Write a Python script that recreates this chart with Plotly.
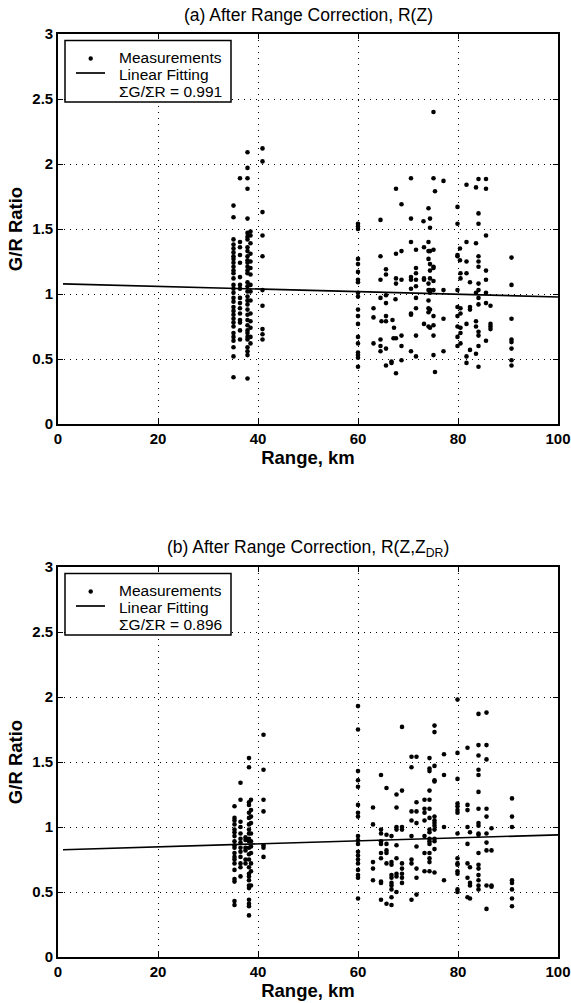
import plotly.graph_objects as go

# ---------------- Panel (a): R(Z) ----------------
a_ratio_351 = [1.68, 1.59, 1.42, 1.38, 1.35, 1.32, 1.29, 1.27, 1.24, 1.21, 1.18, 1.16, 1.12, 1.07, 1.04,
               1.01, 0.97, 0.94, 0.90, 0.87, 0.84, 0.81, 0.78, 0.75, 0.70, 0.67, 0.64, 0.59, 0.52, 0.36]
a_ratio_364 = [1.89, 1.40, 1.36, 1.30, 1.24, 1.13, 1.07, 1.04, 0.97, 0.93, 0.89, 0.85, 0.80, 0.78, 0.72, 0.65]
a_ratio_379 = [2.09, 1.97, 1.89, 1.81, 1.58, 1.47, 1.44, 1.42, 1.36, 1.33, 1.29, 1.26, 1.24, 1.21, 1.18, 1.16,
               1.09, 1.06, 1.02, 0.98, 0.95, 0.92, 0.88, 0.84, 0.80, 0.76, 0.72, 0.70, 0.67, 0.65, 0.59, 0.56,
               0.53, 0.35]
a_ratio_385 = [1.48, 1.45, 1.39, 1.31, 1.25, 1.20, 1.15, 1.07, 1.02, 0.95, 0.85, 0.79, 0.74, 0.67, 0.62]
a_ratio_409 = [2.12, 2.02, 1.63, 1.45, 1.29, 1.03, 0.91, 0.73, 0.69, 0.65]
a_ratio_600 = [1.54, 1.52, 1.50, 1.27, 1.23, 1.17, 1.11, 1.09, 1.01, 0.98, 0.88, 0.83, 0.77, 0.67, 0.62,
               0.55, 0.53, 0.51, 0.44]
a_col_range = [35.1, 36.4, 37.9, 38.5, 40.9, 60.0]

a_far_range = ([63.1] * 3 + [64.5] * 7 + [64.7] + [65.6] * 8 + [66.7] * 2 + [66.9, 67.1, 67.2, 67.5]
               + [67.6] * 6 + [68.7] * 6 + [70.6] * 9 + [71.6] * 9 + [73.1] + [73.2] * 4 + [74.1] * 10
               + [74.4] * 10 + [75.1] * 11 + [75.4] * 2 + [77.1] * 4 + [79.9] * 10 + [80.4] * 2
               + [80.5] * 7 + [81.7] * 7 + [82.4] * 4 + [83.6] * 6 + [84.1] * 14 + [85.6] * 8
               + [86.5] * 4 + [90.7] * 8)
a_far_ratio = [0.89, 0.82, 0.62,
               1.57, 1.29, 1.11, 0.97, 0.65, 0.60, 0.56,
               0.79,
               1.19, 1.15, 0.99, 0.93, 0.83, 0.79, 0.58, 0.45,
               0.47, 0.48,
               0.80, 0.66, 0.74, 0.96,
               1.81, 1.31, 1.12, 1.08, 0.66, 0.39,
               1.69, 1.33, 1.11, 0.68, 0.60, 0.49,
               1.89, 1.58, 1.40, 1.13, 1.11, 1.04, 0.84, 0.85, 0.56,
               1.34, 1.20, 1.16, 1.11, 1.06, 0.97, 0.89, 0.68, 0.52,
               1.56,
               1.36, 1.12, 1.11, 0.77,
               1.66, 1.40, 1.27, 1.33, 1.08, 1.03, 0.95, 0.89, 0.86, 0.75,
               1.58, 1.51, 1.33, 1.23, 1.18, 1.12, 1.03, 1.01, 0.88, 0.74,
               2.40, 1.89, 1.34, 1.21, 1.20, 1.10, 1.03, 0.83, 0.76, 0.68, 0.53,
               1.79, 0.40,
               1.87, 1.03, 0.81, 0.56,
               1.67, 1.54, 1.30, 1.29, 1.03, 0.90, 0.83, 0.75, 0.67, 0.60,
               1.35, 1.26,
               1.16, 1.12, 0.89, 0.85, 0.74, 0.70, 0.62,
               1.84, 1.40, 1.25, 1.16, 0.77, 0.52, 0.47,
               1.09, 0.90, 0.88, 0.57,
               1.82, 1.39, 1.01, 0.79, 0.75, 0.54,
               1.885, 1.62, 1.54, 1.29, 1.25, 1.21, 1.08, 1.03, 0.97, 0.92, 0.71, 0.68, 0.60, 0.44,
               1.885, 1.81, 1.45, 1.18, 1.11, 1.01, 0.93, 0.64,
               0.91, 0.77, 0.75, 0.73,
               1.28, 1.07, 0.81, 0.65, 0.63, 0.58, 0.49, 0.45]
a_fit_range = [1.0, 100.0]
a_fit_ratio = [1.078, 0.977]
a_sum_ratio = "0.991"

# ---------------- Panel (b): R(Z, ZDR) ----------------
b_ratio_353 = [1.16, 1.07, 1.05, 1.02, 0.98, 0.96, 0.93, 0.89, 0.86, 0.84, 0.80, 0.77, 0.75, 0.72, 0.67,
               0.60, 0.58, 0.43, 0.40]
b_ratio_365 = [1.34, 1.21, 1.04, 1.00, 0.95, 0.91, 0.88, 0.84, 0.81, 0.77, 0.72, 0.69, 0.62]
b_ratio_375 = [0.92, 0.90, 0.84, 0.82, 0.75, 0.72]
b_ratio_382 = [1.53, 1.46, 1.19, 1.17, 1.11, 1.07, 1.02, 0.98, 0.95, 0.91, 0.89, 0.84, 0.79, 0.75, 0.69,
               0.64, 0.62, 0.59, 0.55, 0.53, 0.44, 0.41, 0.39, 0.32]
b_ratio_386 = [1.21, 1.13, 1.08, 1.03, 0.95, 0.89, 0.85, 0.80, 0.72, 0.66, 0.55]
b_ratio_411 = [1.71, 1.44, 1.21, 1.12, 0.86, 0.84, 0.77]
b_ratio_600 = [1.93, 1.75, 1.43, 1.36, 1.31, 1.17, 1.11, 1.08, 0.93, 0.90, 0.87, 0.81, 0.78, 0.75, 0.72,
               0.67, 0.63, 0.61, 0.45]
b_col_range = [35.3, 36.5, 37.5, 38.2, 38.6, 41.1, 60.0]

b_far_range = ([63.0] * 5 + [64.6] * 10 + [65.7] * 7 + [66.7] * 10 + [67.7] * 9 + [68.8] * 9
               + [70.7] * 8 + [71.7] * 8 + [73.3] * 7 + [74.3] * 16 + [75.3] * 14 + [77.2] * 4
               + [79.9] * 15 + [81.9] * 8 + [82.4] * 5 + [84.1] * 18 + [85.7] * 10 + [86.7] * 4
               + [90.8] * 8)
b_far_ratio = [1.15, 1.02, 0.73, 0.68, 0.59,
               1.40, 0.98, 0.95, 0.89, 0.87, 0.80, 0.76, 0.58, 0.57, 0.44,
               1.30, 0.94, 0.87, 0.82, 0.80, 0.72, 0.41,
               0.93, 0.73, 0.71, 0.63, 0.61, 0.57, 0.55, 0.52, 0.46, 0.40,
               1.25, 1.15, 1.00, 0.98, 0.86, 0.76, 0.64, 0.62, 0.50,
               1.77, 1.28, 1.00, 0.98, 0.72, 0.68, 0.64, 0.61, 0.57,
               1.54, 1.46, 1.12, 1.05, 0.93, 0.75, 0.72, 0.44,
               1.54, 1.19, 1.12, 1.03, 0.85, 0.68, 0.61, 0.48,
               1.21, 1.14, 1.11, 1.05, 0.93, 0.80, 0.66,
               1.53, 1.45, 1.43, 1.28, 1.21, 1.14, 1.07, 0.98, 0.96, 0.91, 0.89, 0.87, 0.80, 0.76, 0.73, 0.66,
               1.78, 1.73, 1.47, 1.36, 1.35, 1.08, 1.05, 1.03, 1.01, 0.98, 0.91, 0.89, 0.83, 0.65,
               1.56, 1.40, 1.00, 0.59,
               1.98, 1.57, 1.37, 1.18, 1.16, 1.13, 1.11, 0.95, 0.76, 0.72, 0.71, 0.66, 0.64, 0.52, 0.50,
               1.61, 1.17, 1.13, 1.00, 0.87, 0.72, 0.61, 0.46,
               0.96, 0.69, 0.57, 0.55, 0.45,
               1.87, 1.63, 1.55, 1.44, 1.40, 1.27, 1.14, 1.03, 1.01, 0.95, 0.94, 0.80, 0.71, 0.68, 0.63, 0.59,
               0.55, 0.52,
               1.88, 1.63, 1.52, 1.14, 1.08, 0.95, 0.88, 0.82, 0.55, 0.37,
               0.99, 0.82, 0.55, 0.54,
               1.22, 1.08, 1.00, 0.59, 0.57, 0.52, 0.45, 0.39]
b_fit_range = [1.0, 100.0]
b_fit_ratio = [0.825, 0.94]
b_sum_ratio = "0.896"

x_ticks = [0, 20, 40, 60, 80, 100]
y_ticks = [0, 0.5, 1, 1.5, 2, 2.5, 3]
y_tick_text = ["0", "0.5", "1", "1.5", "2", "2.5", "3"]
legend_labels = ["Measurements", "Linear Fitting", "\u03a3G/\u03a3R = "]


def gather(col_range, col_lists, far_range, far_ratio):
    xs, ys = [], []
    for r, lst in zip(col_range, col_lists):
        xs += [r] * len(lst)
        ys += lst
    xs += far_range
    ys += far_ratio
    return xs, ys


a_x, a_y = gather(a_col_range, [a_ratio_351, a_ratio_364, a_ratio_379, a_ratio_385, a_ratio_409, a_ratio_600],
                  a_far_range, a_far_ratio)
b_x, b_y = gather(b_col_range, [b_ratio_353, b_ratio_365, b_ratio_375, b_ratio_382, b_ratio_386, b_ratio_411,
                                b_ratio_600], b_far_range, b_far_ratio)

FONT = "Liberation Sans, Arial, Helvetica, sans-serif"
W, H = 571, 1003
L, R = 58, 13
PW = W - L - R


def px(xp):
    return (xp - L) / PW


def py(yp):
    return 1 - yp / H


fig = go.Figure()

for xs, ys, fx, fy, xa, ya in [
    (a_x, a_y, a_fit_range, a_fit_ratio, "x", "y"),
    (b_x, b_y, b_fit_range, b_fit_ratio, "x2", "y2"),
]:
    fig.add_trace(go.Scatter(x=xs, y=ys, mode="markers", name=legend_labels[0],
                             marker=dict(color="black", size=4.6, line=dict(width=0)),
                             xaxis=xa, yaxis=ya, showlegend=False))
    fig.add_trace(go.Scatter(x=fx, y=fy, mode="lines", name=legend_labels[1],
                             line=dict(color="black", width=1.7),
                             xaxis=xa, yaxis=ya, showlegend=False))

axis_common = dict(
    showline=True, linecolor="black", linewidth=1.6, mirror="ticks",
    ticks="inside", ticklen=5, tickwidth=1.2, tickcolor="black",
    showgrid=True, gridcolor="black", gridwidth=1, griddash="1px,5px",
    zeroline=False, automargin=False,
    tickfont=dict(family=FONT, size=15, color="black", weight="bold"),
)

xcfg = dict(axis_common, range=[0, 100], tickvals=x_ticks,
            title=dict(text="Range, km", font=dict(family=FONT, size=18.5, color="black", weight="bold"),
                       standoff=0))
ycfg = dict(axis_common, range=[0, 3], tickvals=y_ticks, ticktext=y_tick_text,
            title=dict(text="G/R Ratio", font=dict(family=FONT, size=18.5, color="black", weight="bold"),
                       standoff=5))

# ---- hand-drawn legend boxes (paper coordinates from pixel positions) ----
shapes, annotations = [], []
for top, s in [(34, a_sum_ratio), (567, b_sum_ratio)]:
    shapes.append(dict(type="rect", xref="paper", yref="paper",
                       x0=px(65), x1=px(231), y0=py(top + 6.5), y1=py(top + 68),
                       line=dict(color="black", width=1.5), fillcolor="white", layer="above"))
    shapes.append(dict(type="circle", xref="paper", yref="paper",
                       x0=px(90.7 - 2.2), x1=px(90.7 + 2.2), y0=py(top + 24.5 - 2.2), y1=py(top + 24.5 + 2.2),
                       line=dict(width=0), fillcolor="black", layer="above"))
    shapes.append(dict(type="line", xref="paper", yref="paper",
                       x0=px(76), x1=px(105), y0=py(top + 39), y1=py(top + 39),
                       line=dict(color="black", width=1.7), layer="above"))
    for i, txt in enumerate([legend_labels[0], legend_labels[1], legend_labels[2] + s]):
        annotations.append(dict(text=txt, x=px(117), y=py(top + 23 + 17.3 * i), xref="paper", yref="paper",
                                xanchor="left", yanchor="middle", showarrow=False,
                                font=dict(family=FONT, size=15.5, color="black")))

annotations.append(dict(text="(a) After Range Correction, R(Z)", x=px(308), y=py(15), xref="paper",
                        yref="paper", showarrow=False, xanchor="center", yanchor="middle",
                        font=dict(family=FONT, size=17.5, color="black")))
annotations.append(dict(text="(b) After Range Correction, R(Z,Z<sub>DR</sub>)", x=px(308), y=py(548),
                        xref="paper", yref="paper", showarrow=False, xanchor="center", yanchor="middle",
                        font=dict(family=FONT, size=17.5, color="black")))

fig.update_layout(
    width=W, height=H,
    margin=dict(l=L, r=R, t=0, b=0),
    paper_bgcolor="white", plot_bgcolor="white",
    showlegend=False,
    xaxis=dict(xcfg, domain=[0, 1], anchor="y"),
    yaxis=dict(ycfg, domain=[py(424), py(34)], anchor="x"),
    xaxis2=dict(xcfg, domain=[0, 1], anchor="y2"),
    yaxis2=dict(ycfg, domain=[py(957), py(567)], anchor="x2"),
    shapes=shapes,
    annotations=annotations,
)

fig.write_html("out.html", config={"displayModeBar": False},
               post_script="document.body.style.margin='0px';")
